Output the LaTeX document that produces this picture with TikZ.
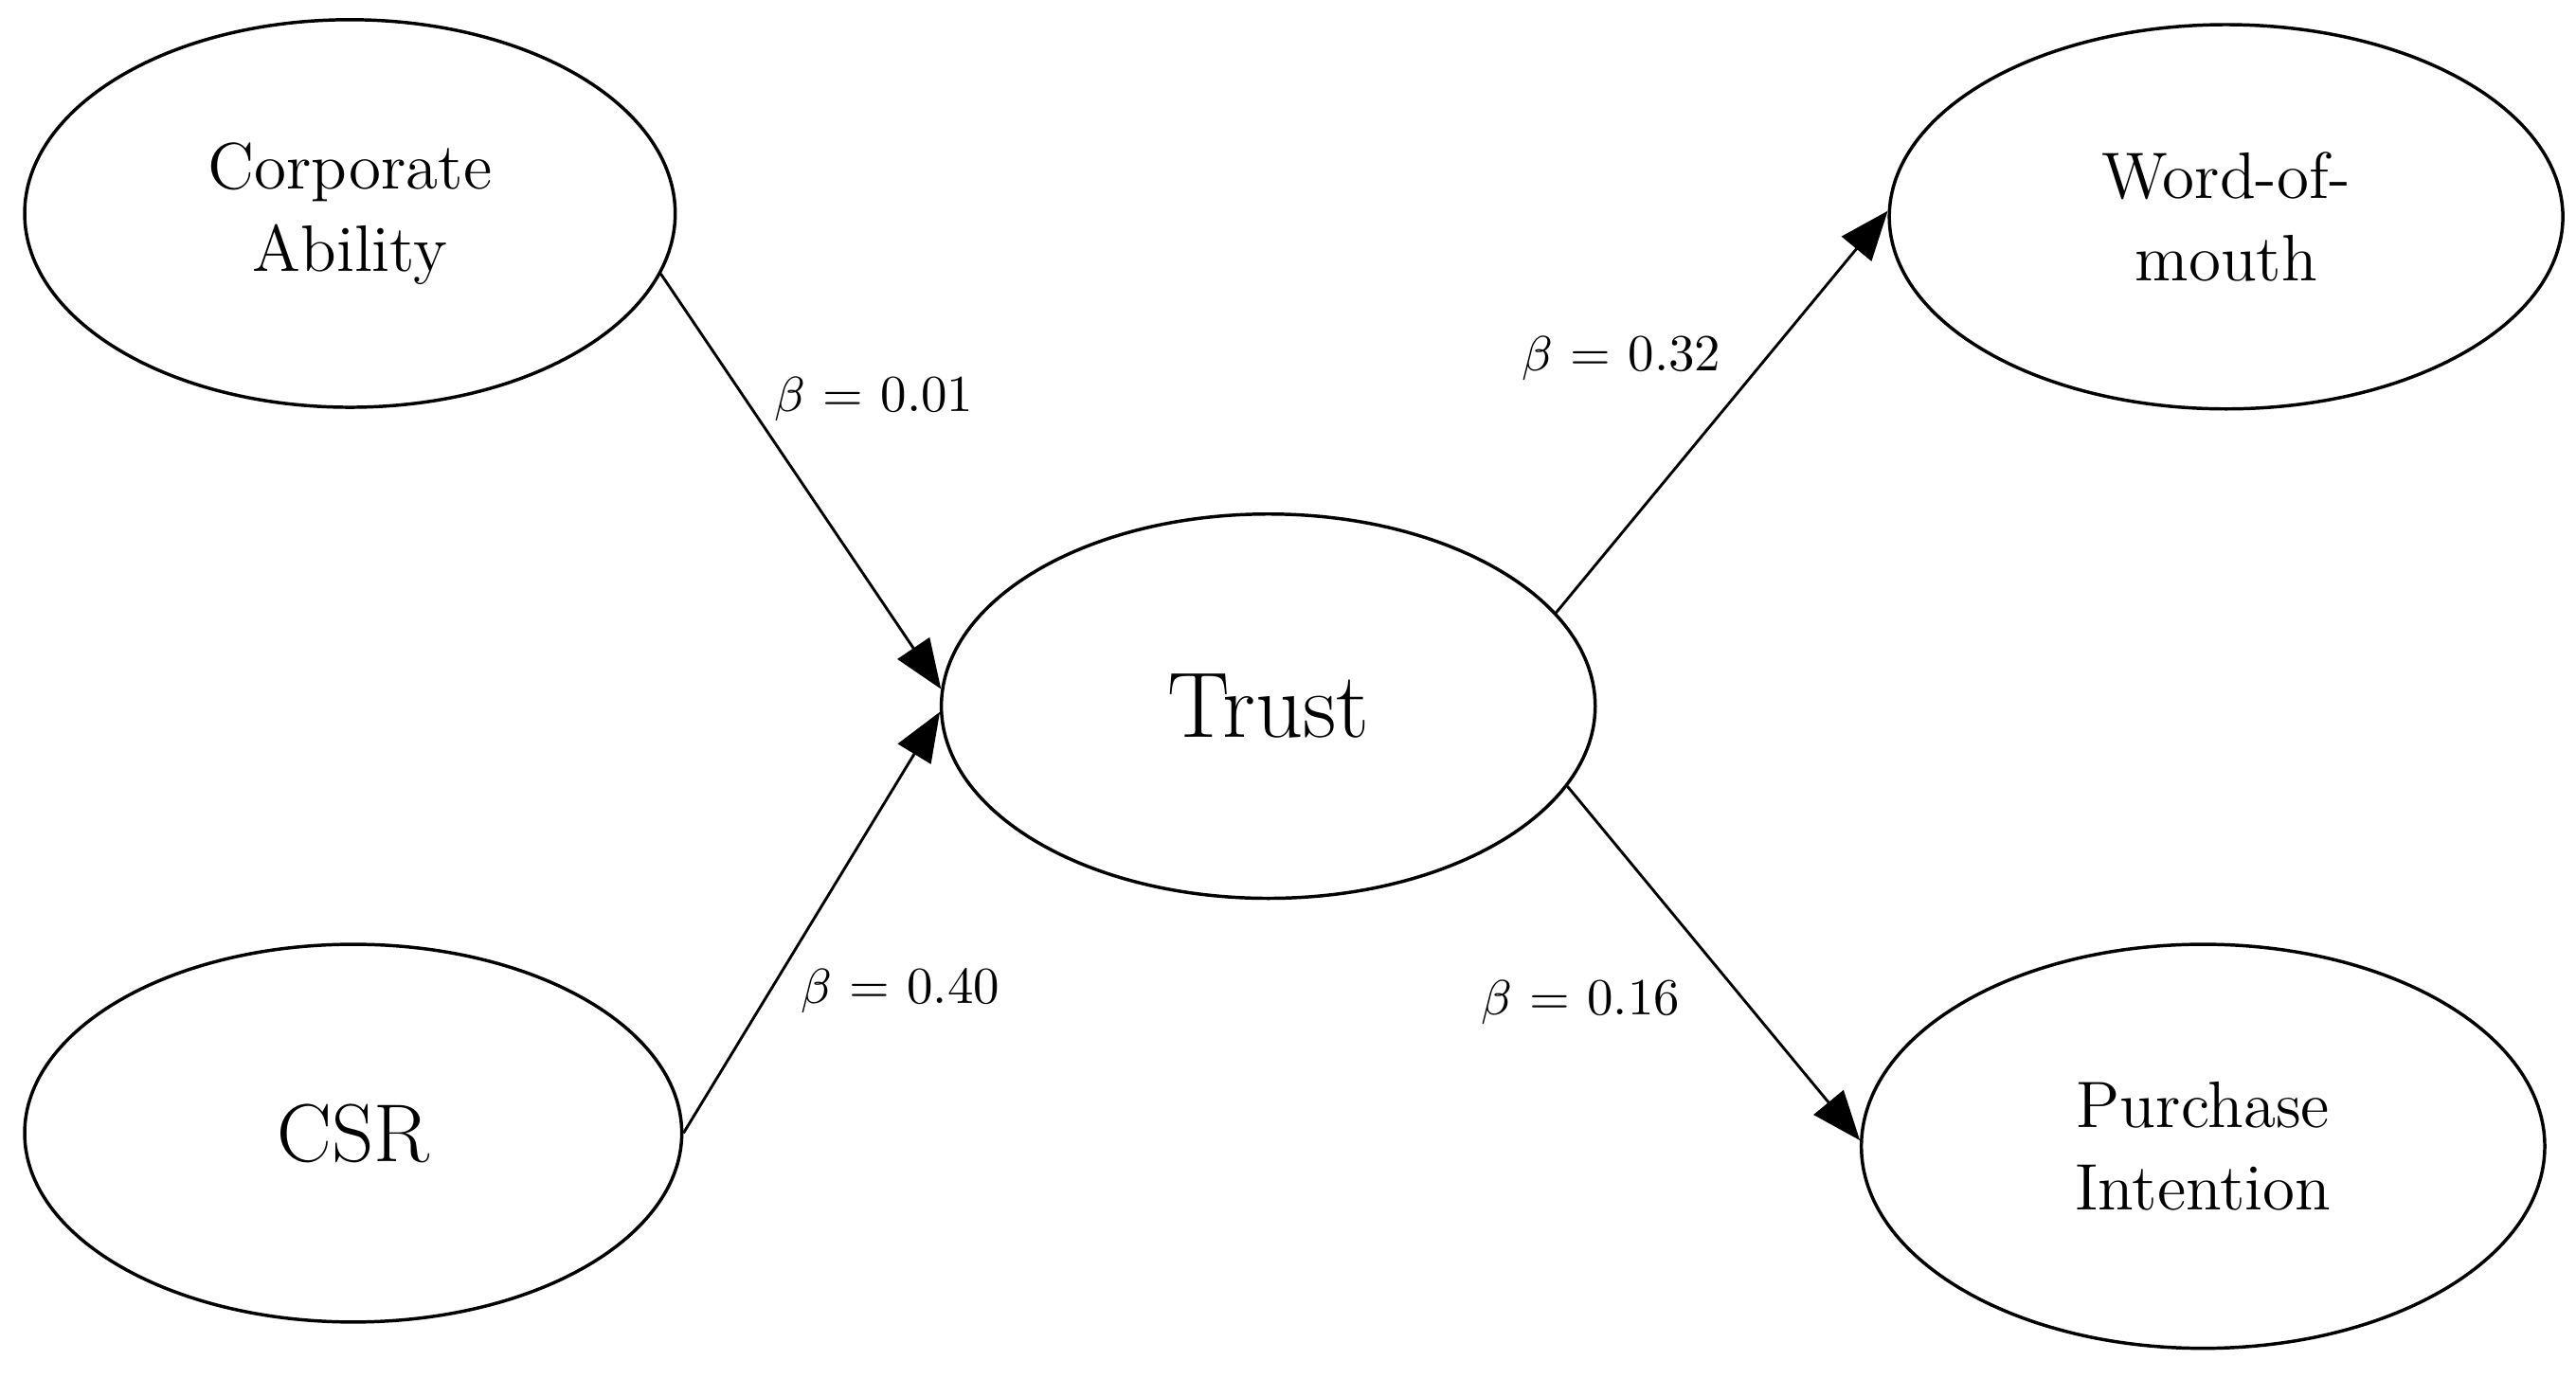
\documentclass[tikz,border=0pt]{standalone}
\usetikzlibrary{shapes.geometric,arrows.meta}
\begin{document}
\begin{tikzpicture}[x=0.3pt,y=-0.3pt,
  ell/.style={ellipse,draw,line width=0.6pt,inner sep=0pt,align=center,font=\fontsize{12}{15}\selectfont},
  arr/.style={line width=0.5pt,-{Triangle[length=9pt,width=7pt]}},
  lab/.style={font=\fontsize{9.5}{11}\selectfont}]
\useasboundingbox (0,0) rectangle (1568,839);
\node[ell,minimum width=118.8pt,minimum height=70.8pt] (ca) at (213,130) {Corporate\\Ability};
\node[ell,minimum width=120pt,minimum height=69pt] (csr) at (215,690) {\fontsize{15}{18}\selectfont CSR};
\node[ell,minimum width=119.4pt,minimum height=70.2pt] (tr) at (772,430) {\fontsize{17}{20}\selectfont Trust};
\node[ell,minimum width=123pt,minimum height=70.2pt] (wom) at (1355,132) {Word-of-\\mouth};
\node[ell,minimum width=124.8pt,minimum height=73.8pt] (pi) at (1341,698) {Purchase\\Intention};
\draw[arr] (ca.-11) -- (tr.177);
\draw[arr] (csr.0) -- (tr.181);
\draw[arr] (tr.18) -- (wom.179);
\draw[arr] (tr.-15) -- (pi.179);
\node[lab] (l1) at (532,243) {$\beta$ = 0.01};
\node[lab] (l2) at (548,603) {$\beta$ = 0.40};
\node[lab] (l3) at (987,218) {$\beta$ = 0.32};
\node[lab] (l4) at (962,610) {$\beta$ = 0.16};
\end{tikzpicture}
\end{document}
